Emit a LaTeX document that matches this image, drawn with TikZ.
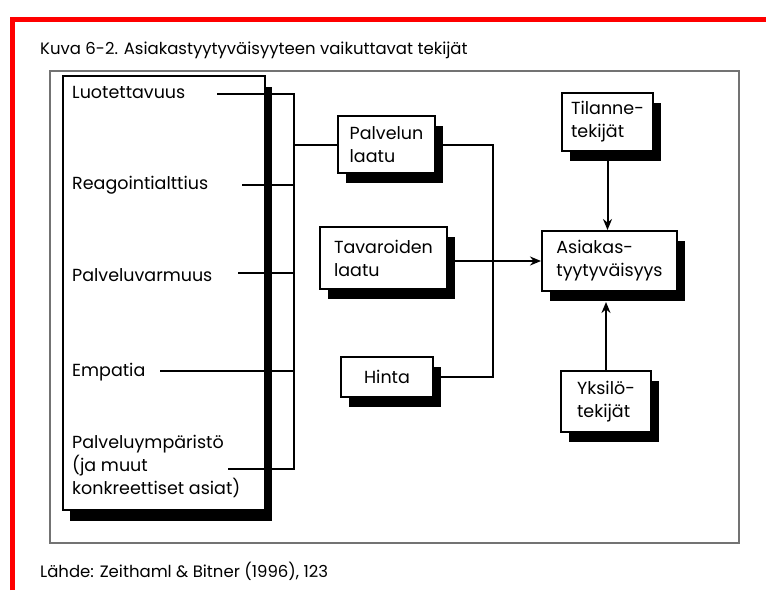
\documentclass[tikz,border=0pt]{standalone}
\usepackage{fontspec}
\setmainfont{Poppins}
\usetikzlibrary{arrows.meta,shadows}
\begin{document}
\begin{tikzpicture}[x=1pt,y=-1pt,
  txt/.style={font=\fontsize{17.5}{23}\selectfont, inner sep=0pt, anchor=west, align=left},
  bx/.style={draw, fill=white, line width=2pt, align=left, font=\fontsize{17.5}{23}\selectfont, inner sep=4pt,
    drop shadow={shadow xshift=8pt, shadow yshift=-10pt, fill=black, opacity=1}},
  ln/.style={line width=2pt},
  arr/.style={ln, -{Stealth[length=11pt,width=9pt]}}
]
\fill[white] (0,0) rectangle (766,590);
\useasboundingbox (0,0) rectangle (766,590);
% red edge
\draw[red, line width=5pt] (12,590) -- (12,19) -- (766,19);
% frame
\draw[black!55, line width=2pt] (50,71) rectangle (739,543);
% title and source
\node[anchor=base west, inner sep=0pt, font=\fontsize{16.5}{20}\selectfont] (title) at (40,54) {Kuva 6-2. Asiakastyytyväisyyteen vaikuttavat tekijät};
\node[anchor=base west, inner sep=0pt, font=\fontsize{16.5}{20}\selectfont] (src) at (40,577) {Lähde: Zeithaml \& Bitner (1996), 123};
% left box
\node[draw, fill=white, line width=2pt, minimum width=202pt, minimum height=434pt,
  drop shadow={shadow xshift=7pt, shadow yshift=-11pt, fill=black, opacity=1}] (lbox) at (164,293) {};
\node[txt] (t1) at (72,92) {Luotettavuus};
\node[txt] (t2) at (72,185) {Reagointialttius};
\node[txt] (t3) at (72,275) {Palveluvarmuus};
\node[txt] (t4) at (72,372) {Empatia};
\node[txt] (t5) at (72,466) {Palveluympäristö\\(ja muut\\konkreettiset asiat)};
\coordinate (s1) at (217,94);
\coordinate (s2) at (242,185);
\coordinate (s3) at (238,273);
\coordinate (s4) at (160,371);
\coordinate (s5) at (228,469);
\coordinate (br) at (294,94);
\draw[ln] (s1) -- (br) -- (br |- s5) -- (s5);
\draw[ln] (s2) -- (s2 -| br);
\draw[ln] (s3) -- (s3 -| br);
\draw[ln] (s4) -- (s4 -| br);
% boxes
\node[bx, minimum width=97pt, minimum height=57pt] (pl) at (386.5,144.5) {Palvelun\\laatu};
\node[bx, minimum width=127pt, minimum height=62pt] (tv) at (383.5,258) {Tavaroiden\\laatu};
\node[bx, minimum width=92pt, minimum height=40pt] (hi) at (387,377) {Hinta};
\node[bx, minimum width=135pt, minimum height=60pt] (as) at (609.5,261) {Asiakas-\\tyytyväisyys};
\node[bx, minimum width=91pt, minimum height=58pt] (ti) at (607.5,122) {Tilanne-\\tekijät};
\node[bx, minimum width=90pt, minimum height=61pt] (yk) at (606,401.5) {Yksilö-\\tekijät};
% connectors
\draw[ln] (pl.west) -- (pl.west -| br);
\coordinate (vx) at (493,147);
\draw[ln] (pl.east) -- (pl.east -| vx) -- (hi.east -| vx) -- (hi.east);
\draw[arr] (as.west -| tv.east) -- (as.west);
\draw[arr] (ti.south) -- (ti.south |- as.north);
\coordinate (asb) at ([yshift=-10pt]as.south);
\draw[arr] (yk.north) -- (yk.north |- asb);
\end{tikzpicture}
\end{document}
